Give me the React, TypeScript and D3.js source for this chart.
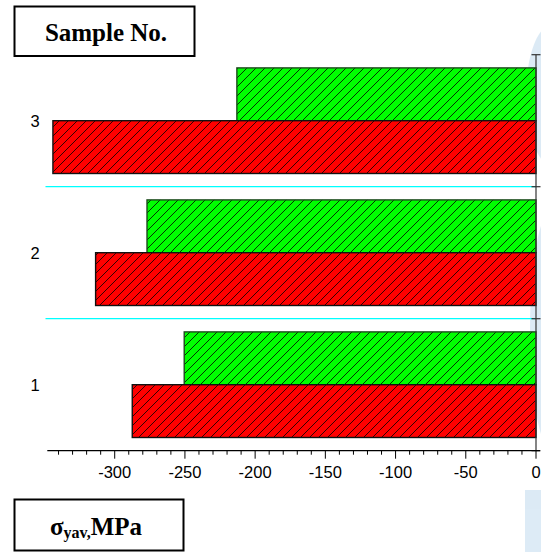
import React from "react";
import * as d3 from "d3";

const categories = ["3", "2", "1"];
const seriesNames = ["green", "red"];
const greenValues = [-213, -277, -250.5];
const redValues = [-344, -313.6, -287.5];
const tickValues = [-300, -250, -200, -150, -100, -50, 0];

const W = 541;
const H = 552;

export default function App() {
  const x = d3.scaleLinear().domain([-348, 0]).range([47.3, 536]);
  const y = d3.scaleBand<string>().domain(categories).range([54.7, 450.7]).padding(0);
  const inner = d3
    .scaleBand<string>()
    .domain(seriesNames)
    .range([0, y.bandwidth()])
    .paddingInner(0)
    .paddingOuter(0.25);
  const minorTicks = d3.range(-340, 1, 10);
  const boundaries = [...categories.map((c) => y(c) as number), 450.7];
  const axisY = 450.7;
  const x0 = x(0);

  const bars: { cat: string; s: string; v: number }[] = [];
  categories.forEach((c, i) => {
    bars.push({ cat: c, s: "green", v: greenValues[i] });
    bars.push({ cat: c, s: "red", v: redValues[i] });
  });

  return (
    <svg
      width={W}
      height={H}
      style={{ position: "absolute", left: 0, top: 0, background: "#fff" }}
      fontFamily="'Liberation Sans', Arial, sans-serif"
    >
      <defs>
        <pattern id="hatch" patternUnits="userSpaceOnUse" width="9" height="9">
          <path d="M0,9 L9,0 M-2,2 L2,-2 M7,11 L11,7" stroke="#000" strokeWidth="0.8" />
        </pattern>
      </defs>
      <rect x={0} y={0} width={W} height={H} fill="#fff" />

      {/* watermark hint on right edge */}
      <g fill="#a9cde8" opacity={0.4}>
        <ellipse cx={552} cy={95} rx={26} ry={70} />
        <ellipse cx={552} cy={330} rx={22} ry={120} />
        <rect x={525} y={490} width={16} height={62} />
      </g>

      {/* cyan separators */}
      {boundaries.slice(1, 3).map((b, i) => (
        <line key={i} x1={45.5} x2={x0} y1={b} y2={b} stroke="#00ffff" strokeWidth={1.2} />
      ))}

      {/* bars */}
      {bars.map((b, i) => {
        const yy = (y(b.cat) as number) + (inner(b.s) as number);
        const xl = x(b.v);
        const fill = b.s === "green" ? "#00ff00" : "#ff0000";
        const stroke = b.s === "green" ? "#1d4a1d" : "#111";
        return (
          <g key={i}>
            <rect x={xl} y={yy} width={x0 - xl} height={inner.bandwidth()} fill={fill} />
            <rect
              x={xl}
              y={yy}
              width={x0 - xl}
              height={inner.bandwidth()}
              fill="url(#hatch)"
              stroke={stroke}
              strokeWidth={1.4}
            />
          </g>
        );
      })}

      {/* vertical axis */}
      <line x1={x0} x2={x0} y1={54.7} y2={axisY} stroke="#333" strokeWidth={1.2} />
      {boundaries.map((b, i) => (
        <line key={i} x1={x0 - 4.5} x2={x0 + 4.5} y1={b} y2={b} stroke="#333" strokeWidth={1.2} />
      ))}

      {/* category labels */}
      {categories.map((c) => (
        <text
          key={c}
          x={35}
          y={(y(c) as number) + y.bandwidth() / 2}
          fontSize={16.5}
          textAnchor="middle"
          dominantBaseline="central"
          fill="#000"
        >
          {c}
        </text>
      ))}

      {/* horizontal axis */}
      <line x1={47.3} x2={x0 + 4} y1={axisY} y2={axisY} stroke="#000" strokeWidth={1.2} />
      {minorTicks.map((t) => (
        <line
          key={t}
          x1={x(t)}
          x2={x(t)}
          y1={axisY}
          y2={axisY + (t % 50 === 0 ? 8 : 4)}
          stroke="#000"
          strokeWidth={1}
        />
      ))}
      {tickValues.map((t) => (
        <text key={t} x={x(t)} y={472} fontSize={16.5} textAnchor="middle" dominantBaseline="central" fill="#000">
          {t}
        </text>
      ))}

      {/* label boxes */}
      <rect x={14.5} y={6.5} width={180} height={49.5} fill="#fff" stroke="#000" strokeWidth={2} />
      <text
        x={106}
        y={32}
        fontSize={25}
        fontWeight="bold"
        fontFamily="'Liberation Serif', 'Times New Roman', serif"
        textAnchor="middle"
        dominantBaseline="central"
      >
        Sample No.
      </text>

      <rect x={14.5} y={499.5} width={169} height={51} fill="#fff" stroke="#000" strokeWidth={2} />
      <text
        x={96}
        y={526}
        fontSize={25}
        fontWeight="bold"
        fontFamily="'Liberation Serif', 'Times New Roman', serif"
        textAnchor="middle"
        dominantBaseline="central"
      >
        σ
        <tspan fontSize={16} dy={6}>yav,</tspan>
        <tspan dy={-6}>MPa</tspan>
      </text>
    </svg>
  );
}
